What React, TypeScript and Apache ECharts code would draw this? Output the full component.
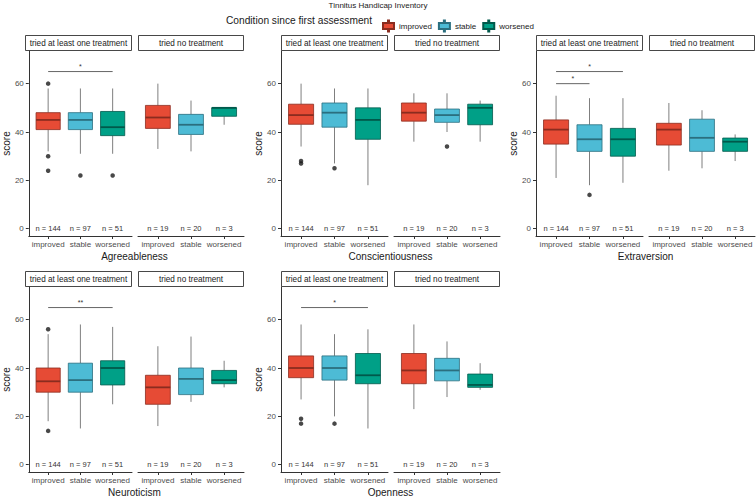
import React, { useEffect, useRef } from 'react';
import * as echarts from 'echarts';

const mainTitle = 'Tinnitus Handicap Inventory';
const legendTitle = 'Condition since first assessment';
const groups = ['improved', 'stable', 'worsened'];
const facets = ['tried at least one treatment', 'tried no treatment'];
const traits = ['Agreeableness', 'Conscientiousness', 'Extraversion', 'Neuroticism', 'Openness'];
const yTicks = [0, 20, 40, 60];
const xTicks = [1, 2, 3];
const counts = [[144, 97, 51], [19, 20, 3]];

// [lower whisker, Q1, median, Q3, upper whisker] per facet -> group
const agreeableness = [
  [[32, 41, 45, 48, 58], [31, 41, 45, 48, 58], [31, 38.5, 42, 48.5, 58]],
  [[33, 41.5, 46, 51, 60], [32, 39, 43, 47.3, 53], [43, 46.5, 50, 50, 50]],
];
const conscientiousness = [
  [[34, 43.2, 47, 51.5, 60], [27, 42, 48, 52, 58], [18, 37, 45, 50, 58]],
  [[36, 44.5, 48, 52, 56], [40, 44, 47, 49.5, 56], [36, 43, 50, 51.5, 53]],
];
const extraversion = [
  [[21, 35, 41, 45, 55], [18, 32, 37, 43, 54], [19, 30, 37, 41.5, 54]],
  [[24, 34.6, 41, 43.6, 52], [25, 32, 37.6, 45.3, 49], [28, 32, 36, 37.5, 39]],
];
const neuroticism = [
  [[18, 30, 34.5, 40, 54], [15, 30, 35, 42, 58], [25, 33, 40, 43, 57]],
  [[16, 25, 32, 37, 49], [26, 29, 35.5, 40, 53], [32, 33.5, 35, 39, 43]],
];
const openness = [
  [[27, 36, 40, 45, 58], [20, 35, 40, 45, 54], [15, 33.5, 37, 46, 56]],
  [[23, 33.5, 39, 46, 58], [28, 34.7, 39, 44, 51], [31, 32, 33, 37.5, 42]],
];

// outliers: [facet, group, value]
const agreeablenessOutliers = [[0, 0, 60], [0, 0, 30], [0, 0, 24], [0, 1, 22], [0, 2, 22]];
const conscientiousnessOutliers = [[0, 0, 28], [0, 0, 27], [0, 1, 25], [1, 1, 34]];
const extraversionOutliers = [[0, 1, 14]];
const neuroticismOutliers = [[0, 0, 56], [0, 0, 14]];
const opennessOutliers = [[0, 0, 19], [0, 0, 17], [0, 1, 17]];

// significance brackets: [facet, fromGroup, toGroup, y, label]
const agreeablenessSig: any[] = [[0, 0, 2, 65, '*']];
const conscientiousnessSig: any[] = [];
const extraversionSig: any[] = [[0, 0, 1, 60, '*'], [0, 0, 2, 65, '*']];
const neuroticismSig: any[] = [[0, 0, 2, 65, '**']];
const opennessSig: any[] = [[0, 0, 2, 65, '*']];

const boxes = [agreeableness, conscientiousness, extraversion, neuroticism, openness];
const outliers = [agreeablenessOutliers, conscientiousnessOutliers, extraversionOutliers, neuroticismOutliers, opennessOutliers];
const sigs = [agreeablenessSig, conscientiousnessSig, extraversionSig, neuroticismSig, opennessSig];

const fills = ['#E64B35', '#4DBBD5', '#00A087'];
const borders = ['#8a2c1f', '#2b6f7f', '#00594b'];
const FONT = '"Liberation Sans", Arial, Helvetica, sans-serif';

const colLeft = [25, 281, 536];
const rowTop = [51, 287];
const facetOffset = [0, 113];
const facetW = [107, 106];
const gridH = 185;
const stripH = 16;

function buildOption() {
  const grid: any[] = [];
  const xAxis: any[] = [];
  const yAxis: any[] = [];
  const series: any[] = [];
  const graphic: any[] = [];

  graphic.push({
    type: 'text', x: 378, y: 5,
    style: { text: mainTitle, fontSize: 8, fontFamily: FONT, fill: '#1a1a1a', align: 'center', verticalAlign: 'middle' },
  });
  graphic.push({
    type: 'text', x: 226, y: 20,
    style: { text: legendTitle, fontSize: 10.2, fontFamily: FONT, fill: '#1a1a1a', align: 'left', verticalAlign: 'middle' },
  });

  traits.forEach((trait, p) => {
    const row = p < 3 ? 0 : 1;
    const col = p % 3;
    const top = rowTop[row];
    facets.forEach((facet, f) => {
      const gi = p * 2 + f;
      const left = colLeft[col] + facetOffset[f];
      grid.push({ left, top, width: facetW[f], height: gridH, containLabel: false });
      xAxis.push({
        type: 'value', gridIndex: gi, min: 0.4, max: 3.6,
        axisLine: { show: true, onZero: false, lineStyle: { color: '#333', width: 1 } },
        axisTick: { show: true, customValues: xTicks, length: 3, lineStyle: { color: '#333' } },
        axisLabel: {
          customValues: xTicks, margin: 4, fontSize: 8, color: '#4d4d4d', fontFamily: FONT,
          formatter: (v: number) => (Math.abs(v - Math.round(v)) < 1e-6 ? groups[Math.round(v) - 1] || '' : ''),
        },
        splitLine: { show: false },
      });
      yAxis.push({
        type: 'value', gridIndex: gi, min: -3, max: 73.5,
        show: f === 0,
        name: f === 0 ? 'score' : '',
        nameLocation: 'middle', nameGap: 17,
        nameTextStyle: { fontSize: 10, color: '#1a1a1a', fontFamily: FONT },
        axisLine: { show: true, onZero: false, lineStyle: { color: '#333', width: 1 } },
        axisTick: { show: true, customValues: yTicks, length: 3, lineStyle: { color: '#333' } },
        axisLabel: { customValues: yTicks, margin: 5, fontSize: 8, color: '#4d4d4d', fontFamily: FONT },
        splitLine: { show: false },
      });

      // strip
      graphic.push({
        type: 'rect', shape: { x: left + 0.5, y: top - stripH + 0.5, width: facetW[f] - 1, height: stripH - 1 },
        style: { fill: '#fff', stroke: '#333', lineWidth: 0.9 },
      });
      graphic.push({
        type: 'text', x: left + facetW[f] / 2, y: top - stripH / 2,
        style: { text: facet, fontSize: 8.2, fontFamily: FONT, fill: '#1a1a1a', align: 'center', verticalAlign: 'middle' },
      });

      // boxes
      groups.forEach((g, k) => {
        const b = boxes[p][f][k];
        series.push({
          type: 'custom', name: g, xAxisIndex: gi, yAxisIndex: gi,
          itemStyle: { color: fills[k], borderColor: borders[k], borderWidth: 0.8 },
          encode: { x: 0, y: [1, 2, 3, 4, 5] },
          data: [[k + 1, b[0], b[1], b[2], b[3], b[4]]],
          renderItem: (params: any, api: any) => {
            const x = api.value(0);
            const lo = api.value(1), q1 = api.value(2), med = api.value(3), q3 = api.value(4), hi = api.value(5);
            const half = 0.375;
            const pHi = api.coord([x, hi]);
            const pQ3 = api.coord([x, q3]);
            const pQ1 = api.coord([x, q1]);
            const pLo = api.coord([x, lo]);
            const pTL = api.coord([x - half, q3]);
            const pBR = api.coord([x + half, q1]);
            const pML = api.coord([x - half, med]);
            const pMR = api.coord([x + half, med]);
            const wStyle = { stroke: '#707070', lineWidth: 0.9 };
            return {
              type: 'group',
              children: [
                { type: 'line', shape: { x1: pHi[0], y1: pHi[1], x2: pQ3[0], y2: pQ3[1] }, style: wStyle },
                { type: 'line', shape: { x1: pQ1[0], y1: pQ1[1], x2: pLo[0], y2: pLo[1] }, style: wStyle },
                {
                  type: 'rect',
                  shape: { x: pTL[0], y: pTL[1], width: pBR[0] - pTL[0], height: pBR[1] - pTL[1] },
                  style: { fill: fills[k], stroke: borders[k], lineWidth: 0.8 },
                },
                { type: 'line', shape: { x1: pML[0], y1: pML[1], x2: pMR[0], y2: pMR[1] }, style: { stroke: borders[k], lineWidth: 1.8 } },
              ],
            };
          },
          z: 2,
        });
      });

      // outliers
      const od = outliers[p].filter((o) => o[0] === f).map((o) => [o[1] + 1, o[2]]);
      if (od.length) {
        series.push({
          type: 'scatter', xAxisIndex: gi, yAxisIndex: gi, data: od,
          symbolSize: 4.5, itemStyle: { color: '#1a1a1a' }, z: 3, silent: true,
        });
      }

      // n labels
      const nd = counts[f].map((n, k) => [k + 1, 0, n]);
      series.push({
        type: 'custom', xAxisIndex: gi, yAxisIndex: gi,
        encode: { x: 0, y: 1 },
        data: nd,
        renderItem: (params: any, api: any) => {
          const pt = api.coord([api.value(0), api.value(1)]);
          return {
            type: 'text', x: pt[0], y: pt[1],
            style: {
              text: 'n = ' + nd[params.dataIndex][2], fontSize: 7.5, fontFamily: FONT, fill: '#333',
              align: 'center', verticalAlign: 'middle',
            },
          };
        },
        silent: true,
      });

      // brackets
      const sd = sigs[p].filter((s) => s[0] === f);
      if (sd.length) {
        series.push({
          type: 'custom', xAxisIndex: gi, yAxisIndex: gi,
          encode: { x: [0, 1], y: 2 },
          data: sd.map((s) => [s[1] + 1, s[2] + 1, s[3]]),
          renderItem: (params: any, api: any) => {
            const a = api.coord([api.value(0), api.value(2)]);
            const b = api.coord([api.value(1), api.value(2)]);
            const label = sd[params.dataIndex][4];
            return {
              type: 'group',
              children: [
                { type: 'line', shape: { x1: a[0], y1: a[1], x2: b[0], y2: b[1] }, style: { stroke: '#555', lineWidth: 0.9 } },
                {
                  type: 'text', x: (a[0] + b[0]) / 2, y: a[1] - 2,
                  style: { text: label, fontSize: 7, fontFamily: FONT, fill: '#333', align: 'center', verticalAlign: 'bottom' },
                },
              ],
            };
          },
          silent: true,
        });
      }
    });

    // panel title
    graphic.push({
      type: 'text', x: colLeft[col] + (facetOffset[1] + facetW[1]) / 2, y: top + gridH + 20,
      style: { text: trait, fontSize: 10, fontFamily: FONT, fill: '#1a1a1a', align: 'center', verticalAlign: 'middle' },
    });
  });

  return {
    animation: false,
    backgroundColor: '#fff',
    textStyle: { fontFamily: FONT },
    legend: {
      data: groups,
      left: 377, top: 14.5,
      itemWidth: 11, itemHeight: 11, itemGap: 6,
      icon: 'path://M5,0h1v2.5h5v6h-5v2.5h-1v-2.5h-5v-6h5z',
      selectedMode: false,
      textStyle: { fontSize: 8, color: '#1a1a1a', fontFamily: FONT },
    },
    grid, xAxis, yAxis, series, graphic,
  };
}

export default function App() {
  const ref = useRef<HTMLDivElement>(null);
  useEffect(() => {
    if (!ref.current) return;
    const chart = echarts.init(ref.current, undefined, { renderer: 'svg' });
    chart.setOption(buildOption() as any);
    return () => chart.dispose();
  }, []);
  return <div ref={ref} style={{ position: 'absolute', left: 0, top: 0, width: 756, height: 497 }} />;
}
